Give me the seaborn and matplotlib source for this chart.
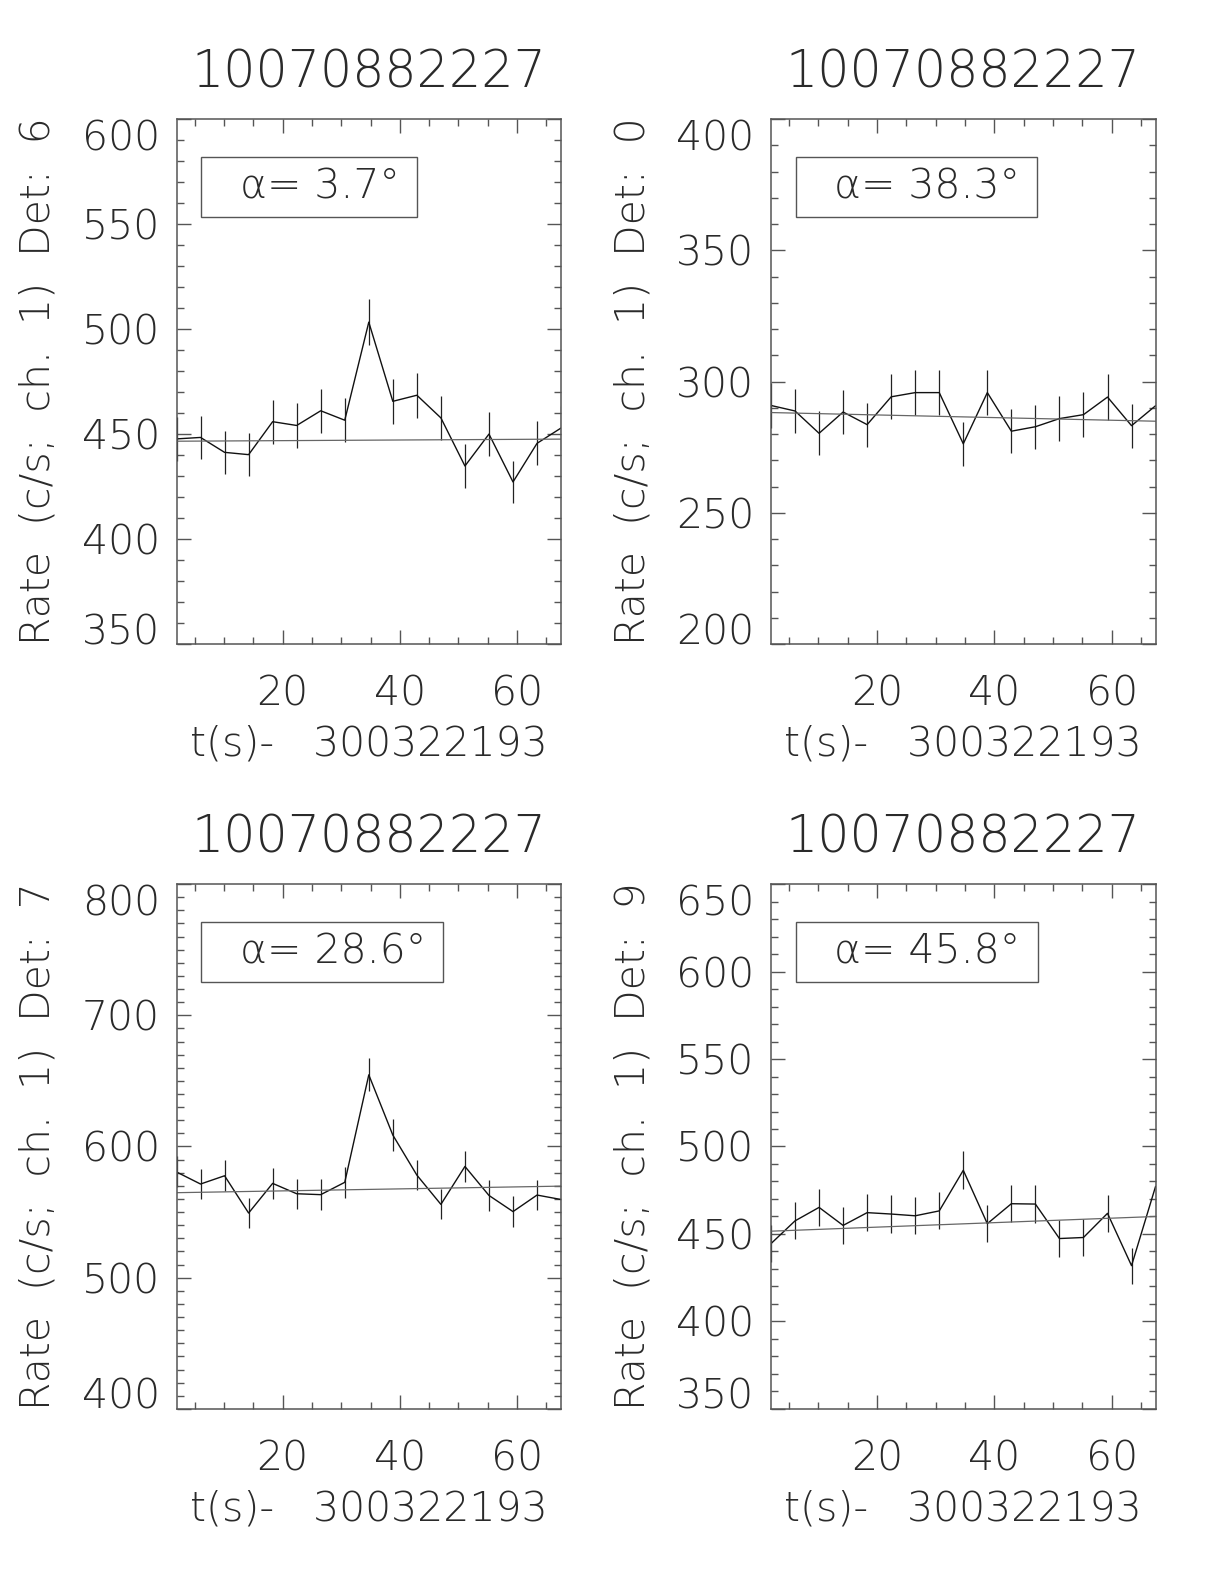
import matplotlib
matplotlib.use('Agg')
import numpy as np
import matplotlib.pyplot as plt
from matplotlib.patches import Rectangle
from matplotlib.ticker import MultipleLocator
from matplotlib import font_manager
import seaborn as sns

# Zeitachse in s relativ zu 300322193
t = [1.9, 6.0, 10.1, 14.2, 18.3, 22.4, 26.5, 30.6, 34.7,
     38.8, 42.9, 47.0, 51.1, 55.2, 59.3, 63.4, 67.5]

# Raten (c/s, Kanal 1) je Detektor
rate_det6 = [447.7, 448.4, 441.3, 440.2, 455.9, 454.1, 461.1, 456.6, 503.3,
             465.6, 468.5, 457.7, 434.8, 450.0, 427.2, 445.6, 452.9]
err_det6 = [10.4, 10.4, 10.3, 10.3, 10.5, 10.5, 10.6, 10.5, 11.1,
            10.7, 10.7, 10.5, 10.3, 10.4, 10.2, 10.4, 10.5]
fit_det6 = [446.6, 447.6]

rate_det0 = [290.9, 288.8, 280.3, 288.4, 283.6, 294.2, 295.8, 295.8, 276.3,
             295.8, 281.1, 282.8, 285.9, 287.4, 294.1, 283.2, 290.8]
err_det0 = [8.5, 8.5, 8.4, 8.5, 8.4, 8.6, 8.6, 8.6, 8.3,
            8.6, 8.4, 8.4, 8.5, 8.5, 8.6, 8.4, 8.5]
fit_det0 = [288.2, 284.9]

rate_det7 = [580.6, 571.4, 577.7, 549.3, 571.9, 564.0, 563.3, 572.7, 654.6,
             608.7, 578.2, 555.9, 584.8, 562.7, 550.4, 563.0, 559.6]
err_det7 = [11.8, 11.6, 11.7, 11.5, 11.6, 11.6, 11.6, 11.7, 12.5,
            12.0, 11.7, 11.5, 11.8, 11.6, 11.5, 11.6, 11.6]
fit_det7 = [564.8, 569.8]

rate_det9 = [444.5, 457.5, 465.2, 454.9, 462.2, 461.4, 460.4, 463.2, 486.4,
             455.9, 467.3, 467.1, 447.4, 448.0, 461.8, 431.9, 477.2]
err_det9 = [10.4, 10.6, 10.6, 10.5, 10.6, 10.6, 10.6, 10.6, 10.8,
            10.5, 10.7, 10.7, 10.4, 10.4, 10.6, 10.3, 10.8]
fit_det9 = [451.6, 460.0]

titel = '10070882227'
detektoren = ['6', '0', '7', '9']
winkel = ['3.7', '38.3', '28.6', '45.8']
raten = [rate_det6, rate_det0, rate_det7, rate_det9]
fehler = [err_det6, err_det0, err_det7, err_det9]
fits = [fit_det6, fit_det0, fit_det7, fit_det9]
y_bereiche = [(350, 600), (200, 400), (400, 800), (350, 650)]
y_schritt = [50, 50, 100, 50]

# Position der Achsen im Bild (Anteil der Figur)
positionen = [[0.1442, 0.5934, 0.3142, 0.3314],
              [0.6299, 0.5934, 0.3142, 0.3314],
              [0.1442, 0.1105, 0.3142, 0.3314],
              [0.6299, 0.1105, 0.3142, 0.3314]]

sns.set_style("ticks")

# duenne Schrift: DejaVu ExtraLight falls vorhanden, sonst Roboto Light
duenn = any(f.name == 'DejaVu Sans' and f.weight == 200 for f in font_manager.fontManager.ttflist)
if duenn:
    plt.rcParams['font.family'] = ['DejaVu Sans']
    gewicht = 200
    gr_tick, gr_label, gr_titel, gr_box = 29.5, 29.5, 36.5, 29.5
    label_x, label_y = 't(s)-   300322193', 'Rate  (c/s;  ch.  1)  Det:  '
    alpha_fmt = 'α= '
else:
    plt.rcParams['font.family'] = ['Roboto', 'DejaVu Sans']
    gewicht = 'light'
    gr_tick, gr_label, gr_titel, gr_box = 32, 32.5, 41, 31.5
    label_x, label_y = 't(s)-    300322193', 'Rate  (c/s;  ch.  1)  Det:  '
    alpha_fmt = 'α =  '
plt.rcParams['font.weight'] = gewicht
plt.rcParams['axes.labelweight'] = gewicht
plt.rcParams['axes.titleweight'] = gewicht

textfarbe = '#2a2a2a'
linienfarbe = '#555555'

fig = plt.figure(figsize=(12.24, 15.84), dpi=100)
kasten_texte = []

for i in range(4):
    ax = fig.add_axes(positionen[i])
    y = raten[i]

    # Lichtkurve mit Fehlerbalken
    ax.errorbar(t, y, yerr=fehler[i], fmt='none', ecolor='#222222', elinewidth=0.9, capsize=0)
    sns.lineplot(x=t, y=y, ax=ax, color='#111111', linewidth=1.0)
    # Untergrund-Fit
    sns.lineplot(x=[t[0], t[-1]], y=fits[i], ax=ax, color='#666666', linewidth=0.9)

    ax.set_xlim(t[0], t[-1])
    ax.set_ylim(*y_bereiche[i])
    ax.set_xticks([20, 40, 60])
    ax.xaxis.set_minor_locator(MultipleLocator(5))
    lo, hi = y_bereiche[i]
    ax.set_yticks(np.arange(lo, hi + 1, y_schritt[i]))
    ax.yaxis.set_minor_locator(MultipleLocator(10))

    ax.tick_params(which='both', direction='in', top=True, right=True,
                   color=linienfarbe, width=1.0, labelsize=gr_tick, labelcolor=textfarbe)
    ax.tick_params(which='major', length=10)
    ax.tick_params(which='minor', length=5)
    ax.tick_params(axis='x', pad=22)
    ax.tick_params(axis='y', pad=12)
    for s in ax.spines.values():
        s.set_color(linienfarbe)
        s.set_linewidth(1.1)

    ylabels = ax.get_yticklabels()
    ylabels[0].set_verticalalignment('baseline')
    ylabels[-1].set_verticalalignment('top')

    ax.set_title(titel, fontsize=gr_titel, color=textfarbe, y=1.072, va='center')
    ax.set_xlabel(label_x, fontsize=gr_label, color=textfarbe)
    ax.xaxis.set_label_coords(0.5, -0.19)
    ax.xaxis.label.set_verticalalignment('center')
    ax.set_ylabel(label_y + detektoren[i], fontsize=gr_label, color=textfarbe)
    ax.yaxis.set_label_coords(-0.36, 0.5)
    ax.yaxis.label.set_verticalalignment('center')

    # Einfallswinkel
    txt = ax.text(0.165, 0.870, alpha_fmt + winkel[i] + '°', transform=ax.transAxes,
                  fontsize=gr_box, color=textfarbe, ha='left', va='center')
    kasten_texte.append((ax, txt))

# Kasten um den Winkeltext, rechter Rand nach Textbreite
fig.canvas.draw()
for ax, txt in kasten_texte:
    bb = txt.get_window_extent().transformed(ax.transAxes.inverted())
    breite_px = ax.get_window_extent().width
    rechts = bb.x1 + 17 / breite_px
    ax.add_patch(Rectangle((0.065, 0.813), rechts - 0.065, 0.114,
                           transform=ax.transAxes, fill=False,
                           edgecolor=linienfarbe, linewidth=1.0))

fig.savefig('out.png', dpi=100)
